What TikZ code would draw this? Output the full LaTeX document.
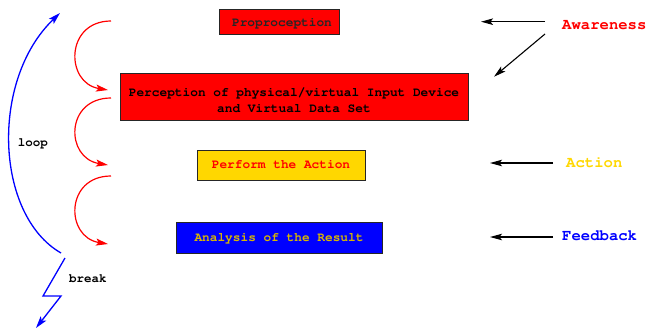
\documentclass[tikz,border=0pt]{standalone}
\usepackage[T1]{fontenc}
\usepackage{courier}
\renewcommand\familydefault{\ttdefault}
\usetikzlibrary{arrows.meta}
\definecolor{gold}{RGB}{255,215,0}
\tikzset{
  boxnode/.style={draw=black!85, line width=0.9pt, font=\fontsize{12.8}{16}\selectfont\bfseries, inner sep=0pt},
  sidelabel/.style={font=\fontsize{15.6}{18}\selectfont\bfseries, inner sep=0pt, anchor=base west},
  smalllabel/.style={font=\fontsize{12.5}{15}\selectfont\bfseries, inner sep=0pt, anchor=base west},
  blackarrow/.style={draw=black, line width=1.1pt, -{Stealth[length=12pt,width=6.5pt,inset=2.5pt]}},
  redcurve/.style={draw=red, line width=1.2pt, -{Stealth[length=12pt,width=7pt,inset=2.5pt]}},
  bluecurve/.style={draw=blue, line width=1.3pt, -{Stealth[length=12pt,width=7pt,inset=2.5pt]}}
}
\begin{document}
\begin{tikzpicture}[x=1pt,y=-1pt]
\useasboundingbox (0,0) rectangle (651,330);
% boxes
\node[boxnode, fill=red, text=black!85, minimum width=120pt, minimum height=25.5pt, text height=10.4pt, text depth=0pt] (prop) at (279,21.7) {\hspace*{6pt}Proproception};
\node[boxnode, fill=red, text=black, align=center, minimum width=348pt, minimum height=47pt, text height=31pt, text depth=0pt] (perc) at (294,96.5) {Perception of physical/virtual Input Device\\and Virtual Data Set};
\node[boxnode, fill=gold, text=red, minimum width=168pt, minimum height=30.5pt, text height=6pt, text depth=0pt] (perf) at (281,165.3) {Perform the Action};
\node[boxnode, fill=blue, text=gold!85!black, minimum width=206pt, minimum height=30.5pt, text height=6pt, text depth=0pt] (anal) at (279,238) {Analysis of the Result};
% side labels
\node[sidelabel, text=red] (aware) at (562,29.3) {Awareness};
\node[sidelabel, text=gold] (act) at (566,167.3) {Action};
\node[sidelabel, text=blue] (feed) at (562,240.7) {Feedback};
% black arrows
\coordinate (a1s) at (545,21.7);
\coordinate (a1e) at (481,21.7);
\coordinate (a2s) at (545,34);
\coordinate (a2e) at (494,76.7);
\coordinate (a3s) at (553,163);
\coordinate (a3e) at (490,163);
\coordinate (a4s) at (553,237);
\coordinate (a4e) at (490,237);
\draw[blackarrow] (a1s) -- (a1e);
\draw[blackarrow] (a2s) -- (a2e);
\draw[blackarrow] (a3s) -- (a3e);
\draw[blackarrow] (a4s) -- (a4e);
% red curves
\coordinate (r1s) at (111,21);
\coordinate (r1e) at (108,90);
\coordinate (r2s) at (111,98);
\coordinate (r2e) at (108,165);
\coordinate (r3s) at (111,176);
\coordinate (r3e) at (108,244);
\draw[redcurve] (r1s) .. controls (65,21) and (65,83) .. (r1e);
\draw[redcurve] (r2s) .. controls (65,98) and (65,158) .. (r2e);
\draw[redcurve] (r3s) .. controls (65,176) and (65,237) .. (r3e);
% blue loop
\coordinate (bls) at (61,253);
\coordinate (ble) at (60,13);
\draw[bluecurve] (bls) .. controls (-5,215) and (-10,80) .. (ble);
\node[smalllabel] (loop) at (17.7,146) {loop};
% break
\coordinate (z0) at (65,258);
\coordinate (z1) at (43,296);
\coordinate (z2) at (61,296);
\coordinate (z3) at (36,328);
\draw[draw=blue, line width=1.3pt, -{Stealth[length=12pt,width=7pt,inset=2.5pt]}] (z0) -- (z1) -- (z2) -- (z3);
\node[smalllabel] (brk) at (69,282.7) {break};
\end{tikzpicture}
\end{document}
